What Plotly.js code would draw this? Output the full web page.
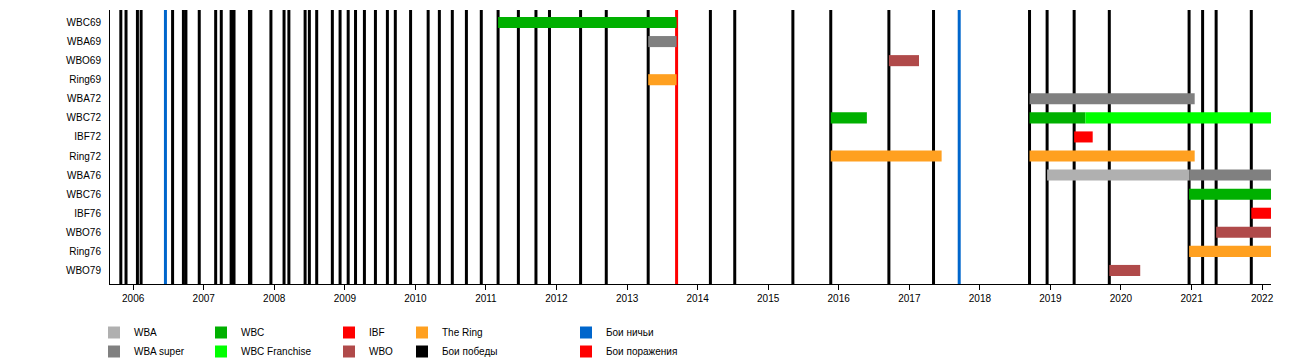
<!DOCTYPE html>
<html>
<head>
<meta charset="utf-8">
<script src="https://cdn.plot.ly/plotly-3.0.1.min.js"></script>
<style>html,body{margin:0;padding:0;background:#fff;}#chart{width:1300px;height:363px;}</style>
</head>
<body>
<div id="chart"></div>
<script>
// ---- data ----
const rows = ['WBC69','WBA69','WBO69','Ring69','WBA72','WBC72','IBF72','Ring72','WBA76','WBC76','IBF76','WBO76','Ring76','WBO79'];
const chartStart = '2005-09-03';
const chartEnd = '2022-02-16';

const titleRow   = ['WBC69','WBA69','Ring69','WBO69','WBA72','WBC72','WBC72','WBC72','IBF72','Ring72','Ring72','WBA76','WBA76','WBC76','IBF76','WBO76','Ring76','WBO79'];
const titleBelt  = ['WBC','WBA super','The Ring','WBO','WBA super','WBC','WBC','WBC Franchise','IBF','The Ring','The Ring','WBA','WBA super','WBC','IBF','WBO','The Ring','WBO'];
const titleStart = ['2011-03-05','2013-04-20','2013-04-20','2016-09-17','2018-09-15','2015-11-21','2018-09-15','2019-07-01','2019-05-04','2015-11-21','2018-09-15','2018-12-15','2020-12-19','2020-12-19','2021-11-06','2021-05-08','2020-12-19','2019-11-02'];
const titleEnd   = ['2013-09-14','2013-09-14','2013-09-14','2017-02-20','2021-01-17','2016-05-26','2019-07-01',chartEnd,'2019-08-08','2017-06-17','2021-01-17','2020-12-19',chartEnd,chartEnd,chartEnd,chartEnd,chartEnd,'2020-04-10'];

const winDates = [
 '2005-10-29','2005-11-25','2006-01-23','2006-02-11','2006-07-24','2006-09-18','2006-10-01','2006-12-09',
 '2007-03-04','2007-04-02','2007-05-23','2007-05-30','2007-06-07','2007-08-26','2007-09-02','2007-12-15',
 '2008-02-21','2008-03-17','2008-06-09','2008-07-01','2008-08-08','2008-10-28','2008-12-07',
 '2009-01-18','2009-02-25','2009-04-12','2009-06-08','2009-08-09','2009-09-19','2009-12-07',
 '2010-03-08','2010-05-05','2010-07-11','2010-09-22','2010-12-08',
 '2011-03-05','2011-06-18','2011-09-17','2011-11-26','2012-05-05','2012-09-15','2013-04-20',
 '2014-03-08','2014-07-12','2015-05-09','2015-11-21','2016-09-17','2017-05-06',
 '2018-09-15','2018-12-15','2019-05-04','2019-11-02','2020-12-19','2021-02-27','2021-05-08','2021-11-06'
];
const drawDates = ['2006-06-17','2017-09-16'];
const lossDates = ['2013-09-14'];

const legendOrder = [
  ['WBA','WBA super'],
  ['WBC','WBC Franchise'],
  ['IBF','WBO'],
  ['The Ring','Бои победы'],
  ['Бои ничьи','Бои поражения']
];

// ---- styles ----
const colors = {
  'WBA':'#b0b0b0', 'WBA super':'#808080', 'WBC':'#00b000', 'WBC Franchise':'#00ff00',
  'IBF':'#ff0000', 'WBO':'#b04a4a', 'The Ring':'#ffa020',
  'Бои победы':'#000000', 'Бои ничьи':'#0066cc', 'Бои поражения':'#ff0000'
};
const plotLeft = 110, plotRight = 1271, plotTop = 10, plotBottom = 284;
const legendX = [94, 201, 329, 402, 566];
const legendTopPx = 318;
const fightWidthMs = 3 / 70.56 * 365.25 * 86400000;

function legendFor(name){
  for (let i=0;i<legendOrder.length;i++) if (legendOrder[i].indexOf(name)>=0) return i===0?'legend':'legend'+(i+1);
}

const traces = [];
function fightTrace(name, dates){
  return {
    type:'bar', name:name, x:dates, y:dates.map(()=>1), base:0,
    width:fightWidthMs, marker:{color:colors[name], line:{width:0}},
    xaxis:'x', yaxis:'y', legend:legendFor(name), hoverinfo:'x+name'
  };
}
traces.push(fightTrace('Бои победы', winDates));
traces.push(fightTrace('Бои ничьи', drawDates));
traces.push(fightTrace('Бои поражения', lossDates));

const belts = ['WBA','WBA super','WBC','WBC Franchise','IBF','WBO','The Ring'];
belts.forEach(b=>{
  const idx = titleBelt.map((t,i)=>t===b?i:-1).filter(i=>i>=0);
  traces.push({
    type:'bar', orientation:'h', name:b,
    y: idx.map(i=>titleRow[i]),
    base: idx.map(i=>titleStart[i]),
    x: idx.map(i=>new Date(titleEnd[i]) - new Date(titleStart[i])),
    width:0.58, marker:{color:colors[b], line:{width:0}},
    xaxis:'x', yaxis:'y2', legend:legendFor(b), hoverinfo:'y+name'
  });
});
traces.forEach(t=>{ const g = legendOrder.find(g=>g.indexOf(t.name)>=0); t.legendrank = g.indexOf(t.name)+1; });

const font = {family:'"Liberation Sans", Arial, sans-serif', size:10, color:'#000'};
const layout = {
  width:1300, height:363,
  margin:{l:plotLeft, r:1300-plotRight, t:plotTop, b:363-plotBottom, autoexpand:false},
  paper_bgcolor:'#fff', plot_bgcolor:'#fff',
  font:font,
  barmode:'overlay',
  showlegend:true,
  xaxis:{type:'date', range:[chartStart, chartEnd], tick0:'2006-01-01', dtick:'M12', tickformat:'%Y',
         ticks:'outside', ticklen:5, tickcolor:'#000', showline:true, linecolor:'#000', linewidth:1,
         showgrid:false, zeroline:false, tickfont:font, automargin:false},
  yaxis:{range:[0,1], visible:false, showgrid:false, zeroline:false},
  yaxis2:{overlaying:'y', side:'left', type:'category', categoryorder:'array', categoryarray:rows,
          range:[13.71,-0.655], showline:true, linecolor:'#000', linewidth:1, showgrid:false, zeroline:false,
          ticks:'outside', ticklen:6, tickcolor:'rgba(0,0,0,0)', tickfont:font, automargin:false}
};
const pw = plotRight - plotLeft, ph = plotBottom - plotTop;
legendOrder.forEach((grp,i)=>{
  const key = i===0?'legend':'legend'+(i+1);
  layout[key] = {xref:'paper', yref:'paper', x:(legendX[i]-plotLeft)/pw, y:(plotBottom-legendTopPx)/ph,
                 xanchor:'left', yanchor:'top', orientation:'v', bgcolor:'rgba(0,0,0,0)',
                 font:font, tracegroupgap:0, traceorder:'normal'};
});

Plotly.newPlot('chart', traces, layout, {displayModeBar:false, staticPlot:true});
</script>
</body>
</html>
